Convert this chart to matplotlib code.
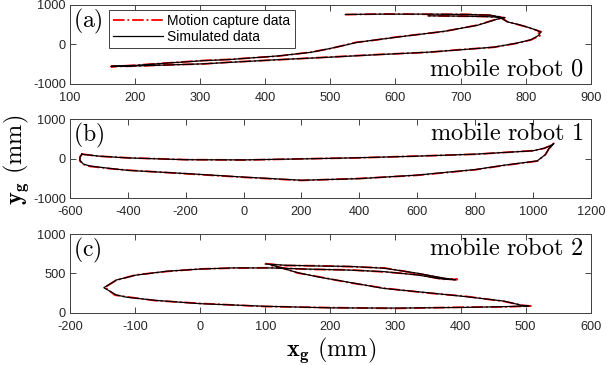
import numpy as np
import matplotlib
matplotlib.use('Agg')
import matplotlib.pyplot as plt

plt.rcParams['font.family'] = ['Liberation Sans', 'DejaVu Sans']
plt.rcParams['mathtext.fontset'] = 'cm'
plt.rcParams['axes.unicode_minus'] = False

# mobile robot 0
a_x = [523, 580, 650, 710, 746, 759, 772, 790, 802, 815, 823, 820, 808, 785, 751, 700, 650, 573,
       497, 420, 344, 306, 250, 200, 163, 200, 250, 306, 344, 420, 470, 500, 525, 540, 560, 600,
       675, 726, 756, 768, 740, 700, 650]
a_y = [760, 768, 768, 760, 742, 700, 571, 500, 443, 370, 315, 230, 120, 30, -68, -135, -196, -258,
       -324, -385, -455, -490, -520, -545, -555, -530, -470, -410, -383, -290, -200, -100, -10, 50,
       95, 180, 333, 486, 640, 680, 705, 718, 725]
# motion capture (slightly noisy around the right tip)
a_mx = [523, 580, 650, 710, 746, 759, 772, 790, 802, 814, 824, 818, 822, 808, 785, 751, 700, 650,
        573, 497, 420, 344, 306, 250, 200, 163, 200, 250, 306, 344, 420, 470, 500, 525, 540, 560,
        600, 675, 726, 756, 768, 740, 700, 650]
a_my = [755, 772, 765, 762, 740, 705, 575, 495, 440, 375, 320, 270, 220, 115, 25, -72, -130, -200,
        -255, -320, -388, -450, -492, -518, -548, -560, -525, -468, -405, -378, -295, -195, -105,
        -5, 55, 90, 185, 330, 490, 645, 676, 708, 715, 728]

# mobile robot 1
b_x = [-560, -500, -400, -200, 0, 200, 400, 600, 800, 1000, 1038, 1060, 1072, 1065, 1055, 1043,
       1015, 900, 800, 600, 400, 200, 0, -200, -400, -463, -530, -554, -566, -565, -558]
b_y = [110, 60, 15, -30, -35, -10, 20, 60, 110, 195, 260, 320, 380, 320, 250, 100, -60, -170,
       -280, -420, -510, -550, -470, -380, -300, -250, -190, -140, -40, 40, 110]
b_mx = b_x
b_my = [112, 58, 18, -28, -38, -8, 18, 62, 108, 198, 255, 325, 385, 318, 245, 95, -65, -175, -285,
        -425, -505, -555, -475, -385, -295, -255, -200, -150, -60, 50, 120]

# mobile robot 2
c_x = [100, 130, 182, 230, 283, 334, 375, 392, 370, 334, 283, 229, 169, 110, 50, 0, -51, -99,
       -129, -148, -129, -113, -69, 0, 100, 200, 300, 400, 467, 505, 495, 467, 407, 348, 283, 229,
       182, 150, 125, 108]
c_y = [620, 605, 595, 590, 566, 503, 440, 420, 432, 481, 523, 543, 555, 570, 571, 556, 529, 479,
       417, 320, 229, 200, 160, 118, 85, 65, 62, 70, 80, 90, 95, 150, 208, 258, 310, 388, 455, 510,
       570, 610]
c_mx = [100, 130, 182, 230, 283, 334, 375, 395, 372, 334, 283, 229, 169, 110, 50, 0, -51, -99,
        -129, -146, -131, -113, -69, 0, 100, 200, 300, 400, 467, 508, 495, 467, 407, 348, 283, 229,
        182, 150, 125, 108]
c_my = [625, 600, 598, 586, 570, 500, 435, 425, 428, 485, 520, 546, 552, 573, 568, 558, 526, 482,
        414, 325, 226, 205, 157, 121, 82, 68, 58, 73, 77, 88, 98, 146, 212, 254, 314, 384, 459, 506,
        574, 606]

xticks = [np.arange(100, 901, 100), np.arange(-600, 1201, 200), np.arange(-200, 601, 100)]
yticks = [[-1000, 0, 1000], [-1000, 0, 1000], [0, 500, 1000]]
ylims = [(-1000, 1000), (-1000, 1000), (0, 1000)]
names = ['mobile robot 0', 'mobile robot 1', 'mobile robot 2']
tags = ['(a)', '(b)', '(c)']

fig = plt.figure(figsize=(6.07, 3.65), dpi=100)
bottoms = [0.770, 0.4575, 0.1425]
data = [(a_x, a_y, a_mx, a_my), (b_x, b_y, b_mx, b_my), (c_x, c_y, c_mx, c_my)]
gray = '#404040'

for i in range(3):
    ax = fig.add_axes([0.1153, bottoms[i], 0.858, 0.2164])
    x, y, mx, my = data[i]
    ax.plot(mx, my, color='red', ls='-.', lw=1.3, label='Motion capture data')
    ax.plot(x, y, color='black', lw=0.9, label='Simulated data')
    ax.set_xlim(xticks[i][0], xticks[i][-1])
    ax.set_ylim(*ylims[i])
    ax.set_xticks(xticks[i])
    ax.set_yticks(yticks[i])
    ax.tick_params(direction='in', top=True, right=True, length=4, width=0.6,
                   labelsize=9.2, colors='#262626')
    ax.tick_params(axis='x', pad=6)
    ax.tick_params(axis='y', pad=3)
    for s in ax.spines.values():
        s.set_color(gray)
        s.set_linewidth(0.7)
    ax.text(0.006, 0.975, r'$\mathrm{' + tags[i] + '}$', transform=ax.transAxes,
            ha='left', va='top', fontsize=17)
    label = r'$\mathrm{' + names[i].replace(' ', r'\ ') + '}$'
    if i == 0:
        ax.text(0.985, 0.04, label, transform=ax.transAxes, ha='right', va='bottom', fontsize=17.5)
        leg = ax.legend(loc='upper left', bbox_to_anchor=(0.075, 0.94), fontsize=10,
                        handlelength=3.6, labelspacing=0.12, borderpad=0.3,
                        handletextpad=0.3, borderaxespad=0, fancybox=False, framealpha=1)
        leg.get_frame().set_edgecolor(gray)
        leg.get_frame().set_linewidth(0.7)
    else:
        ax.text(0.985, 0.95, label, transform=ax.transAxes, ha='right', va='top', fontsize=17.5)

fig.text(0.545, 0.04, r'$\mathbf{x_g}\ \mathrm{(mm)}$', ha='center', va='center', fontsize=17.5)
fig.text(0.027, 0.562, r'$\mathbf{y_g}\ \mathrm{(mm)}$', ha='center', va='center',
         fontsize=17.5, rotation=90)

fig.savefig('out.png', dpi=100)
